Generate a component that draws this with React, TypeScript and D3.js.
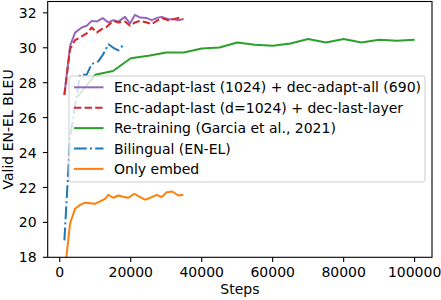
import { useMemo } from "react";
import * as d3 from "d3";

const WIDTH = 441;
const HEIGHT = 300;
const MARGIN = { top: 1.5, right: 9, bottom: 42.7, left: 47.7 };
const FONT = "DejaVu Sans";
const FS = 14;

const xTicks = [0, 20000, 40000, 60000, 80000, 100000];
const yTicks = [18, 20, 22, 24, 26, 28, 30, 32];

// Enc-adapt-last (1024) + dec-adapt-all (690)
const adaptAll = [
  [1300, 27.3], [2900, 30.1], [4310, 30.87], [6200, 31.16], [7600, 31.26],
  [9010, 31.54], [10420, 31.5], [12110, 31.7], [13690, 31.45], [15100, 31.58],
  [16510, 31.5], [18390, 31.77], [19800, 31.39], [21210, 31.89], [22620, 31.73],
  [24510, 31.7], [25920, 31.58], [27320, 31.7], [28730, 31.77], [30590, 31.64],
  [32000, 31.64], [33410, 31.58], [34820, 31.64],
];

// Enc-adapt-last (d=1024) + dec-last-layer
const lastLayer = [
  [1300, 27.3], [2900, 29.93], [4310, 30.44], [5720, 30.59], [7600, 30.82],
  [9010, 31.16], [10420, 30.87], [11830, 31.07], [13240, 31.2], [15100, 31.54],
  [16510, 31.45], [18390, 31.5], [19800, 31.26], [21210, 31.45], [22620, 31.54],
  [24510, 31.45], [25920, 31.35], [27320, 31.54], [28730, 31.7], [30590, 31.58],
  [32000, 31.64], [33410, 31.7], [34820, 31.64],
];

// Re-training (Garcia et al., 2021)
const retraining = [
  [5000, 27.2], [10000, 28.45], [15000, 28.67], [20000, 29.4], [25000, 29.54],
  [30000, 29.73], [35000, 29.73], [40000, 29.96], [45000, 30.02], [50000, 30.3],
  [55000, 30.17], [60000, 30.11], [65000, 30.24], [70000, 30.5], [75000, 30.3],
  [80000, 30.5], [85000, 30.3], [90000, 30.46], [95000, 30.4], [100000, 30.46],
];

// Bilingual (EN-EL)
const bilingual = [
  [1300, 18.97], [2900, 24.8], [4310, 26.7], [5720, 28.46], [7600, 28.46],
  [9010, 29.07], [10870, 29.22], [12280, 29.64], [13690, 30.2], [15100, 30.0],
  [16510, 29.85], [17920, 30.17],
];

// Only embed
const onlyEmbed = [
  [1590, 17.5], [2900, 19.93], [4310, 20.78], [5720, 21.0], [7130, 21.13],
  [8540, 21.1], [9950, 21.07], [11360, 21.2], [12770, 21.35], [13690, 21.58],
  [15100, 21.41], [16510, 21.54], [17920, 21.47], [19320, 21.41], [21010, 21.64],
  [22620, 21.45], [24030, 21.3], [25440, 21.4], [27320, 21.58], [28730, 21.45],
  [30140, 21.73], [31720, 21.77], [33410, 21.54], [34820, 21.58],
];

const series = [
  { name: "Enc-adapt-last (1024) + dec-adapt-all (690)", data: adaptAll, color: "#9467bd", dash: "" },
  { name: "Enc-adapt-last (d=1024) + dec-last-layer", data: lastLayer, color: "#d62728", dash: "7.4,3.2" },
  { name: "Re-training (Garcia et al., 2021)", data: retraining, color: "#2ca02c", dash: "" },
  { name: "Bilingual (EN-EL)", data: bilingual, color: "#1f77b4", dash: "12.8,3.2,2,3.2" },
  { name: "Only embed", data: onlyEmbed, color: "#ff7f0e", dash: "" },
];

const LineChart = () => {
  const innerW = WIDTH - MARGIN.left - MARGIN.right;
  const innerH = HEIGHT - MARGIN.top - MARGIN.bottom;

  const xScale = useMemo(() => d3.scaleLinear().domain([-3400, 104900]).range([0, innerW]), [innerW]);
  const yScale = useMemo(() => d3.scaleLinear().domain([18, 32.65]).range([innerH, 0]), [innerH]);

  const line = d3
    .line<number[]>()
    .x((d) => xScale(d[0]))
    .y((d) => yScale(d[1]));

  const legend = { x: 69 - MARGIN.left, y: 76 - MARGIN.top, w: 356, h: 106, row: 20.4 };

  return (
    <svg width={WIDTH} height={HEIGHT} style={{ position: "absolute", left: 0, top: 0 }} fontFamily={FONT}>
      <rect width={WIDTH} height={HEIGHT} fill="white" />
      <defs>
        <clipPath id="plot-clip">
          <rect width={innerW} height={innerH} />
        </clipPath>
      </defs>
      <g transform={`translate(${MARGIN.left},${MARGIN.top})`}>
        <g clipPath="url(#plot-clip)">
          {series.map((s) => (
            <path
              key={s.name}
              d={line(s.data) || ""}
              fill="none"
              stroke={s.color}
              strokeWidth={2}
              strokeDasharray={s.dash}
              strokeLinejoin="round"
            />
          ))}
        </g>
        <rect x={0} y={0} width={innerW} height={innerH} fill="none" stroke="black" strokeWidth={1.1} />

        {xTicks.map((t) => (
          <g key={t} transform={`translate(${xScale(t)},${innerH})`}>
            <line y2={4.8} stroke="black" strokeWidth={1.1} />
            <text y={19.5} textAnchor="middle" fontSize={FS}>{t}</text>
          </g>
        ))}
        {yTicks.map((t) => (
          <g key={t} transform={`translate(0,${yScale(t)})`}>
            <line x2={-4.8} stroke="black" strokeWidth={1.1} />
            <text x={-11} dy="0.36em" textAnchor="end" fontSize={FS}>{t}</text>
          </g>
        ))}

        <text x={innerW / 2} y={innerH + 37} textAnchor="middle" fontSize={FS}>Steps</text>
        <text
          transform={`translate(${-34.5},${innerH / 2}) rotate(-90)`}
          textAnchor="middle"
          fontSize={FS}
        >
          Valid EN-EL BLEU
        </text>

        <g transform={`translate(${legend.x},${legend.y})`}>
          <rect
            width={legend.w}
            height={legend.h}
            rx={2.7}
            fill="white"
            fillOpacity={0.8}
            stroke="#cccccc"
            strokeWidth={1}
          />
          {series.map((s, i) => {
            const cy = 11.3 + i * legend.row;
            return (
              <g key={s.name}>
                <line x1={5} x2={34.5} y1={cy} y2={cy} stroke={s.color} strokeWidth={2} strokeDasharray={s.dash} />
                <text x={45} y={cy} dy="0.36em" fontSize={FS}>{s.name}</text>
              </g>
            );
          })}
        </g>
      </g>
    </svg>
  );
};

export default function App() {
  return <LineChart />;
}
